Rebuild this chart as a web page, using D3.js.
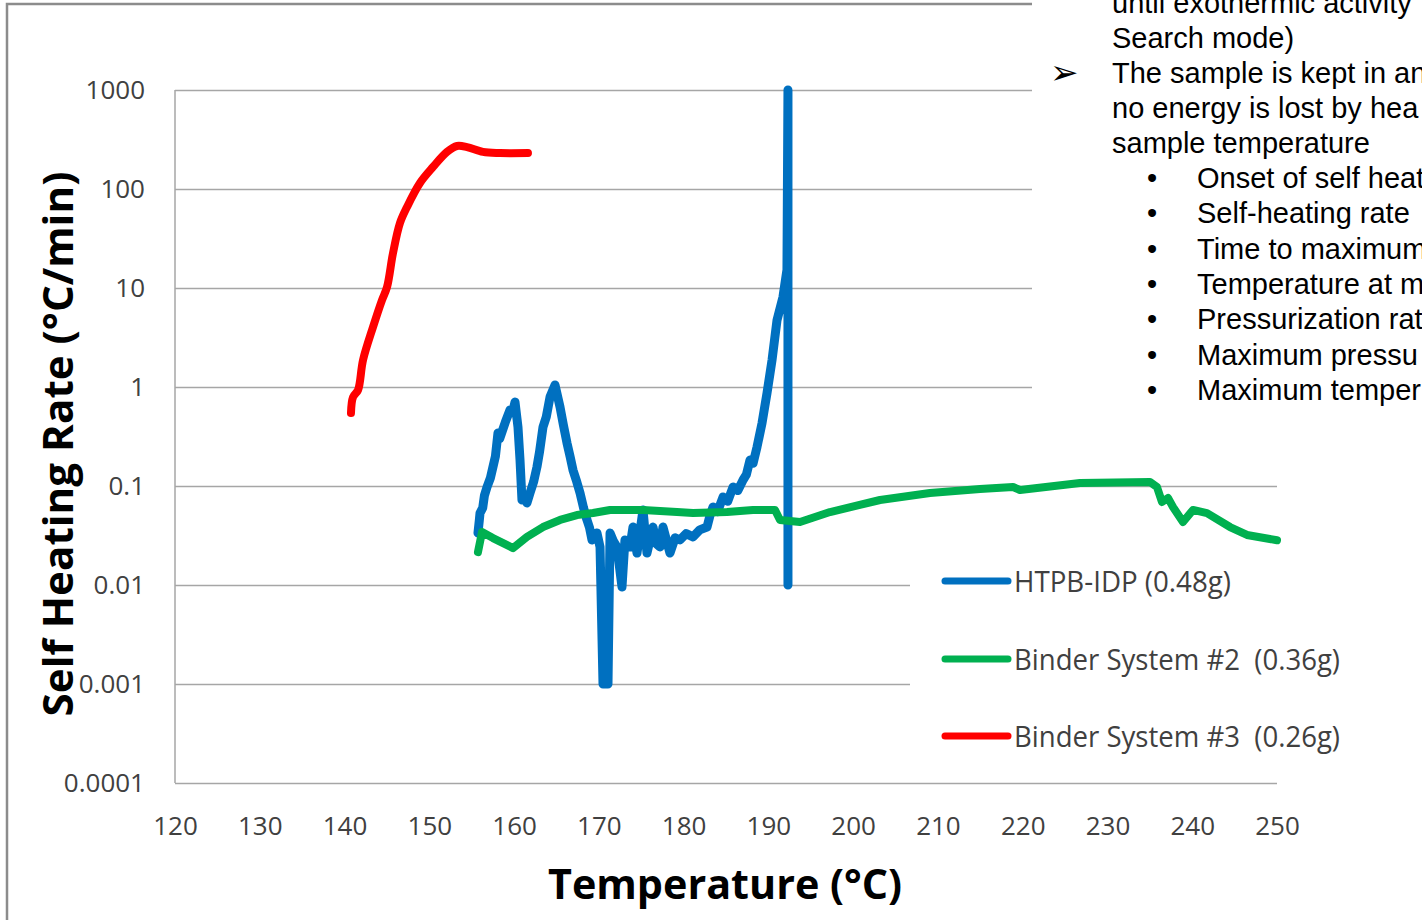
<!DOCTYPE html>
<html>
<head>
<meta charset="utf-8">
<script src="https://cdn.jsdelivr.net/npm/d3@7"></script>
<style>
  html, body { margin: 0; padding: 0; background: #fff; }
  svg { display: block; }
  text { white-space: pre; }
</style>
</head>
<body>
<svg id="chart" width="1422" height="920"></svg>
<script>
// ---------------- DATA ----------------
const xTickValues = [120,130,140,150,160,170,180,190,200,210,220,230,240,250];
const xTickLabels = ["120","130","140","150","160","170","180","190","200","210","220","230","240","250"];
const yTickValues = [0.0001,0.001,0.01,0.1,1,10,100,1000];
const yTickLabels = ["0.0001","0.001","0.01","0.1","1","10","100","1000"];

const seriesNames = ["HTPB-IDP (0.48g)", "Binder System #2  (0.36g)", "Binder System #3  (0.26g)"];

// HTPB-IDP (blue)
const blueTemp = [155.74,155.9,155.98,156.3,156.5,156.81,157.2,157.51,157.8,158.10,158.3,158.57,159.0,159.52,159.8,160.11,160.46,160.70,160.93,161.2,161.52,161.88,162.3,162.70,163.0,163.41,163.8,164.24,164.83,165.42,165.8,166.24,166.6,166.95,167.4,167.78,168.2,168.60,168.9,169.19,169.78,170.14,170.49,171.08,171.32,171.7,172.14,172.73,173.08,173.67,174.03,174.50,175.21,175.68,176.39,176.8,177.21,177.57,178.39,179.0,179.57,180.3,181.11,181.9,182.76,183.1,183.47,184.0,184.65,185.2,185.83,186.4,187.01,187.4,187.83,188.2,188.66,189.25,189.84,190.43,191.02,191.72,192.19,192.31,192.31];
const blueRate = [0.0335,0.045,0.0533,0.06,0.08,0.0977,0.12,0.156,0.2,0.343,0.3,0.351,0.45,0.586,0.55,0.705,0.394,0.183,0.0722,0.08,0.0673,0.085,0.11,0.156,0.22,0.394,0.5,0.792,1.05,0.628,0.42,0.272,0.2,0.145,0.11,0.085,0.06,0.0454,0.038,0.0285,0.0335,0.0242,0.001,0.001,0.0335,0.028,0.0242,0.00955,0.0285,0.0242,0.0385,0.021,0.0573,0.021,0.0385,0.026,0.0242,0.0385,0.021,0.03,0.0285,0.033,0.0306,0.036,0.0385,0.05,0.0614,0.055,0.0775,0.07,0.0977,0.09,0.115,0.13,0.183,0.17,0.248,0.432,0.869,1.87,4.75,8.11,15.2,1000,0.01];

// Binder System #2 (green)
const greenTemp = [155.74,156.22,157.51,159.87,161.52,163.41,165.42,167.42,169.31,171.32,175.21,179.22,181.11,185.12,188.18,190.78,191.37,193.73,197.27,203.17,209.06,214.96,218.86,219.68,226.76,235.02,235.84,236.43,237.14,237.73,238.91,240.09,241.74,244.46,246.46,250.0];
const greenRate = [0.0215,0.0343,0.0298,0.0236,0.0306,0.0385,0.0454,0.0509,0.0533,0.0573,0.0573,0.0546,0.0533,0.0546,0.0573,0.0573,0.0454,0.0433,0.0546,0.0722,0.085,0.0933,0.0977,0.0911,0.107,0.110,0.0977,0.0689,0.0757,0.0614,0.0433,0.0573,0.0533,0.0385,0.032,0.0283];

// Binder System #3 (red)
const redTemp = [140.76,141.00,141.59,142.18,143.36,144.42,145.01,145.72,146.54,147.37,148.90,150.44,152.09,153.27,154.45,156.33,158.34,161.64];
const redRate = [0.546,0.79,0.93,1.87,4.04,7.56,10.2,22.6,45.4,65.8,115,167,237,272,265,237,231,231];

const textBoxLines = ["until exothermic activity", "Search mode)", "The sample is kept in an", "no energy is lost by hea", "sample temperature"];
const bulletLines = ["Onset of self heat", "Self-heating rate", "Time to maximum", "Temperature at m", "Pressurization rat", "Maximum pressu", "Maximum temper"];

// ---------------- DRAW ----------------
const svg = d3.select("#chart");
svg.append("rect").attr("width",1422).attr("height",920).attr("fill","#fff");

const x = d3.scaleLinear().domain([120,250]).range([175,1277]);
const y = d3.scaleLog().domain([0.0001,1000]).range([783,90]);

const gridColor = "#a6a6a6";
const labelFont = "'Open Sans', 'Liberation Sans', sans-serif";

// chart frame
svg.append("path").attr("d","M7,920 L7,4 L1032,4").attr("fill","none").attr("stroke","#8c8c8c").attr("stroke-width",2.5);

// gridlines
const grid = svg.append("g").attr("transform","translate(175,0)")
  .call(d3.axisLeft(y).tickValues(yTickValues).tickSize(-1102).tickFormat(""));
grid.select(".domain").remove();
grid.selectAll(".tick line").attr("stroke",gridColor).attr("stroke-width",1.5);

// y axis line
svg.append("line").attr("x1",175).attr("x2",175).attr("y1",y(1000)).attr("y2",y(0.0001))
  .attr("stroke",gridColor).attr("stroke-width",1.5);

// y tick labels
const yAxis = svg.append("g").attr("transform","translate(175,0)")
  .call(d3.axisLeft(y).tickValues(yTickValues).tickSize(0).tickPadding(30)
    .tickFormat((d,i) => yTickLabels[i]));
yAxis.select(".domain").remove();
yAxis.selectAll("text").attr("font-family",labelFont).attr("font-size",26).attr("fill","#404040");

// x tick labels
const xAxis = svg.append("g").attr("transform","translate(0,783)")
  .call(d3.axisBottom(x).tickValues(xTickValues).tickSize(0).tickPadding(38)
    .tickFormat((d,i) => xTickLabels[i]));
xAxis.select(".domain").remove();
xAxis.selectAll("text").attr("font-family",labelFont).attr("font-size",26).attr("fill","#404040").attr("dy","0.55em");

// axis titles
svg.append("text").attr("x",725).attr("y",899).attr("text-anchor","middle")
  .attr("font-family",labelFont).attr("font-weight","bold").attr("font-size",42)
  .attr("textLength",354).attr("lengthAdjust","spacingAndGlyphs")
  .text("Temperature (°C)");
svg.append("text").attr("transform","translate(73,444) rotate(-90)").attr("text-anchor","middle")
  .attr("font-family",labelFont).attr("font-weight","bold").attr("font-size",42)
  .attr("textLength",545).attr("lengthAdjust","spacingAndGlyphs")
  .text("Self Heating Rate (°C/min)");

// series
const lineLinear = d3.line().x(d => x(d[0])).y(d => y(d[1]));
const lineSmooth = d3.line().x(d => x(d[0])).y(d => y(d[1])).curve(d3.curveCatmullRom.alpha(0.5));
const series = [
  {name: seriesNames[0], color: "#0070C0", pts: d3.zip(blueTemp, blueRate), gen: lineLinear, w: 9},
  {name: seriesNames[1], color: "#00B050", pts: d3.zip(greenTemp, greenRate), gen: lineLinear, w: 8},
  {name: seriesNames[2], color: "#FF0000", pts: d3.zip(redTemp, redRate), gen: lineSmooth, w: 8}
];
series.forEach(s => {
  svg.append("path").attr("d", s.gen(s.pts)).attr("fill","none").attr("stroke",s.color)
    .attr("stroke-width",s.w).attr("stroke-linejoin","round").attr("stroke-linecap","round");
});

// legend box
svg.append("rect").attr("x",910).attr("y",556).attr("width",450).attr("height",212).attr("fill","#fff");
const legY = [581, 659, 736];
series.forEach((s,i) => {
  svg.append("line").attr("x1",945).attr("x2",1008).attr("y1",legY[i]).attr("y2",legY[i])
    .attr("stroke",s.color).attr("stroke-width",7).attr("stroke-linecap","round");
  svg.append("text").attr("x",1014).attr("y",legY[i]+11)
    .attr("font-family",labelFont).attr("font-size",30).attr("fill","#404040")
    .attr("textLength", i === 0 ? 217 : 326).attr("lengthAdjust","spacingAndGlyphs")
    .text(s.name);
});

// overlaid text box (top right)
svg.append("rect").attr("x",1032).attr("y",0).attr("width",390).attr("height",420).attr("fill","#fff");
const tbFont = "'Liberation Sans', Arial, sans-serif";
const tbBase = [13, 48, 83, 118, 153];
textBoxLines.forEach((t,i) => {
  svg.append("text").attr("x",1112).attr("y",tbBase[i]).attr("font-family",tbFont)
    .attr("font-size",29).attr("fill","#000").text(t);
});
svg.append("text").attr("x",1050).attr("y",84).attr("font-family","'DejaVu Sans', sans-serif")
  .attr("font-size",34).attr("fill","#000").text("➢");
bulletLines.forEach((t,i) => {
  const by = 188 + i*35.3;
  svg.append("text").attr("x",1147).attr("y",by).attr("font-family",tbFont)
    .attr("font-size",29).attr("fill","#000").text("•");
  svg.append("text").attr("x",1197).attr("y",by).attr("font-family",tbFont)
    .attr("font-size",29).attr("fill","#000").text(t);
});
</script>
</body>
</html>
